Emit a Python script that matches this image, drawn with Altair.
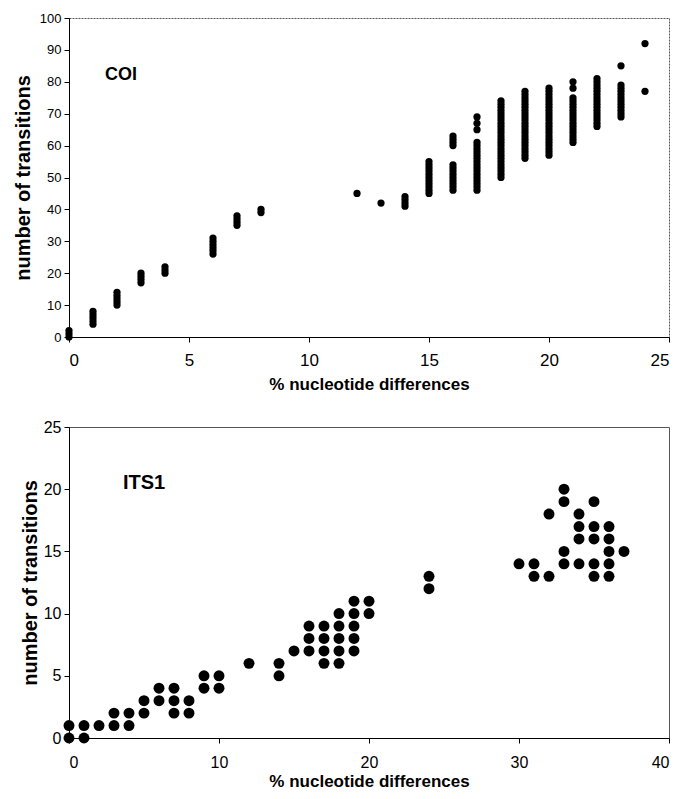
import altair as alt
import pandas as pd

FONT = "Liberation Sans"

# ---------------- COI data (one list of y-values per x column) ----------------
coi_pct = [0, 1, 2, 3, 4, 6, 7, 8, 12, 13, 14, 15, 16, 17, 18, 19, 20, 21, 22, 23, 24]
coi_transitions = [
    [0, 1, 2],
    [4, 5, 6, 7, 8],
    [10, 11, 12, 13, 14],
    [17, 18, 19, 20],
    [20, 21, 22],
    [26, 27, 28, 29, 30, 31],
    [35, 36, 37, 38],
    [39, 40],
    [45],
    [42],
    [41, 42, 43, 44],
    [45, 46, 47, 48, 49, 50, 51, 52, 53, 54, 55],
    [46, 47, 48, 49, 50, 51, 52, 53, 54, 60, 61, 62, 63],
    [46, 47, 48, 49, 50, 51, 52, 53, 54, 55, 56, 57, 58, 59, 60, 61, 65, 67, 69],
    [50, 51, 52, 53, 54, 55, 56, 57, 58, 59, 60, 61, 62, 63, 64, 65, 66, 67, 68, 69, 70, 71, 72, 73, 74],
    [56, 57, 58, 59, 60, 61, 62, 63, 64, 65, 66, 67, 68, 69, 70, 71, 72, 73, 74, 75, 76, 77],
    [57, 58, 59, 60, 61, 62, 63, 64, 65, 66, 67, 68, 69, 70, 71, 72, 73, 74, 75, 76, 77, 78],
    [61, 62, 63, 64, 65, 66, 67, 68, 69, 70, 71, 72, 73, 74, 75, 78, 80],
    [66, 67, 68, 69, 70, 71, 72, 73, 74, 75, 76, 77, 78, 79, 80, 81],
    [69, 70, 71, 72, 73, 74, 75, 76, 77, 78, 79, 85],
    [77, 92],
]

# ---------------- ITS1 data ----------------
its_pct = [0, 1, 2, 3, 4, 5, 6, 7, 8, 9, 10, 12, 14, 15, 16, 17, 18, 19, 20, 24,
           30, 31, 32, 33, 34, 35, 36, 37]
its_transitions = [
    [0, 1], [0, 1], [1], [1, 2], [1, 2], [2, 3], [3, 4], [2, 3, 4], [2, 3],
    [4, 5], [4, 5], [6], [5, 6], [7], [7, 8, 9], [6, 7, 8, 9], [6, 7, 8, 9, 10],
    [7, 8, 9, 10, 11], [10, 11], [12, 13],
    [14], [13, 14], [13, 18], [14, 15, 19, 20], [14, 16, 17, 18],
    [13, 14, 16, 17, 19], [13, 14, 15, 16, 17], [15],
]

coi_ticks_x = [0, 5, 10, 15, 20, 25]
coi_ticks_y = [0, 10, 20, 30, 40, 50, 60, 70, 80, 90, 100]
its_ticks_x = [0, 10, 20, 30, 40]
its_ticks_y = [0, 5, 10, 15, 20, 25]

coi_df = pd.DataFrame(
    [(x, y) for x, ys in zip(coi_pct, coi_transitions) for y in ys],
    columns=["pct", "trans"],
)
its_df = pd.DataFrame(
    [(x, y) for x, ys in zip(its_pct, its_transitions) for y in ys],
    columns=["pct", "trans"],
)

XTITLE = "% nucleotide differences"
YTITLE = "number of transitions"


def panel(df, xdom, ydom, xt, yt, size, ylabsize, xlabsize, xlabpad, xtitlepad,
          ytitlepad, label, lx, ly, lsize, w, h, dash):
    xenc = alt.X("pct:Q",
                 scale=alt.Scale(domain=xdom, nice=False, zero=False),
                 axis=alt.Axis(values=xt, title=XTITLE, grid=False,
                               labelFontSize=xlabsize, labelFont=FONT,
                               labelColor="black", labelPadding=xlabpad,
                               labelOverlap=False,
                               titleFont=FONT, titleFontSize=17,
                               titleFontWeight="bold", titleColor="black",
                               titlePadding=xtitlepad,
                               domainColor="black", tickColor="black",
                               tickSize=5))
    yenc = alt.Y("trans:Q",
                 scale=alt.Scale(domain=ydom, nice=False, zero=False),
                 axis=alt.Axis(values=yt, title=YTITLE, grid=False,
                               labelFontSize=ylabsize, labelFont=FONT,
                               labelColor="black", labelPadding=3,
                               labelOverlap=False,
                               titleFont=FONT, titleFontSize=20,
                               titleFontWeight="bold", titleColor="black",
                               titlePadding=ytitlepad,
                               domainColor="black", tickColor="black",
                               tickSize=5))
    pts = alt.Chart(df).mark_circle(size=size, color="black", opacity=1).encode(
        x=xenc, y=yenc)
    lab_df = pd.DataFrame({"pct": [lx], "trans": [ly], "t": [label]})
    txt = alt.Chart(lab_df).mark_text(
        align="left", baseline="middle", font=FONT, fontSize=lsize,
        fontWeight="bold", color="black",
    ).encode(x=xenc, y=yenc, text="t:N")
    view = dict(stroke="#555555", strokeWidth=1)
    if dash:
        view["strokeDash"] = [2, 1]
    return alt.layer(pts, txt).properties(width=w, height=h, view=alt.ViewBackground(**view))


top = panel(coi_df, [0, 25], [0, 100], coi_ticks_x, coi_ticks_y, 52, 13, 17, 10, 8,
            6, "COI", 1.5, 82, 18, 600, 319, True)
bottom = panel(its_df, [0, 40], [0, 25], its_ticks_x, its_ticks_y, 120, 16, 16, 11, 3,
               3, "ITS1", 3.6, 20.5, 20, 600, 311, False)

chart = alt.vconcat(top, bottom, spacing=25).properties(
    padding={"left": 4, "top": 3, "right": 5, "bottom": 0},
    background="white",
)

chart.save("out.html", embed_options={"renderer": "svg", "actions": False})
